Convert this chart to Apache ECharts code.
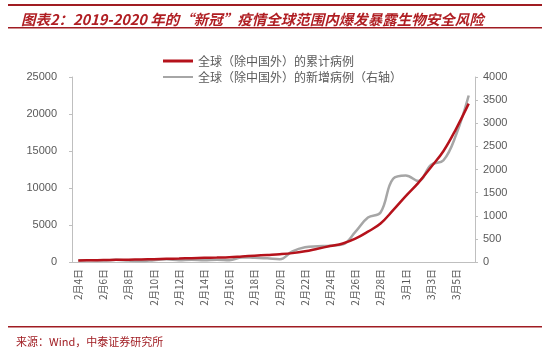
<!DOCTYPE html>
<html lang="zh">
<head>
  <meta charset="UTF-8">
  <title>全球新冠病例</title>
  <style>
    html, body { margin: 0; padding: 0; background: #fff; }
    #chart { width: 550px; height: 353px; }
  </style>
</head>
<body>
  <div id="chart"></div>
  <script src="https://cdn.jsdelivr.net/npm/echarts@6/dist/echarts.min.js"></script>
  <script>
    // 日期 2/4 - 3/6
    var dates = ['2月4日', '2月5日', '2月6日', '2月7日', '2月8日', '2月9日', '2月10日', '2月11日',
      '2月12日', '2月13日', '2月14日', '2月15日', '2月16日', '2月17日', '2月18日', '2月19日',
      '2月20日', '2月21日', '2月22日', '2月23日', '2月24日', '2月25日', '2月26日', '2月27日',
      '2月28日', '2月29日', '3月1日', '3月2日', '3月3日', '3月4日', '3月5日', '3月6日'];

    // 累计病例（左轴）
    var cumulative = [200, 230, 260, 290, 320, 340, 380, 430,
      470, 520, 560, 600, 650, 750, 850, 950,
      1050, 1200, 1450, 1800, 2150, 2500, 3150, 4100,
      5200, 7000, 8900, 10700, 12800, 15000, 18000, 21400];

    // 新增病例（右轴）
    var daily = [30, 40, 30, 50, 30, 20, 40, 60,
      40, 50, 40, 50, 40, 100, 90, 80,
      60, 230, 320, 340, 350, 380, 650, 960,
      1070, 1800, 1870, 1750, 2100, 2200, 2750, 3600];

    var red = '#b5121b';
    var grey = '#a6a6a6';
    var txt = '#595959';
    var cjk = '"Noto Sans CJK SC", sans-serif';
    var num = 'Arial, "Liberation Sans", sans-serif';

    var myChart = echarts.init(document.getElementById('chart'));

    var option = {
      animation: false,
      backgroundColor: '#fff',
      textStyle: { fontFamily: cjk },
      title: {
        text: '图表2：2019-2020 年的“新冠”疫情全球范围内爆发暴露生物安全风险',
        left: 16,
        top: 7,
        textStyle: {
          color: '#b01e23',
          fontSize: 14.5,
          fontWeight: 'bold',
          fontStyle: 'italic',
          fontFamily: cjk
        }
      },
      graphic: [
        { type: 'rect', shape: { x: 8, y: 4, width: 534, height: 2 }, style: { fill: '#a01c22' } },
        { type: 'rect', shape: { x: 8, y: 27, width: 534, height: 1.5 }, style: { fill: '#a01c22' } },
        { type: 'rect', shape: { x: 8, y: 326, width: 534, height: 1.5 }, style: { fill: '#a01c22' } },
        {
          type: 'text', left: 16, top: 336,
          style: { text: '来源：Wind，中泰证券研究所', fill: '#a01c22', font: '11px ' + cjk }
        }
      ],
      legend: {
        orient: 'vertical',
        left: 158,
        top: 50,
        itemGap: 4,
        itemWidth: 30,
        itemHeight: 12,
        textStyle: { color: txt, fontSize: 12, fontFamily: cjk },
        data: [
          { name: '全球（除中国外）的累计病例', icon: 'path://M0,5 L30,5 L30,8 L0,8 Z' },
          { name: '全球（除中国外）的新增病例（右轴）', icon: 'path://M0,5.5 L30,5.5 L30,7.5 L0,7.5 Z' }
        ]
      },
      grid: { left: 72, right: 75, top: 77, bottom: 91 },
      xAxis: {
        type: 'category',
        data: dates,
        boundaryGap: true,
        axisLine: { lineStyle: { color: '#bfbfbf', width: 1 } },
        axisTick: { interval: 1, length: 4, lineStyle: { color: '#bfbfbf' } },
        axisLabel: {
          interval: 1,
          rotate: 90,
          color: txt,
          fontSize: 10,
          margin: 7,
          fontFamily: cjk
        },
        splitLine: { show: false }
      },
      yAxis: [
        {
          type: 'value',
          min: 0,
          max: 25000,
          interval: 5000,
          axisLine: { show: true, lineStyle: { color: '#bfbfbf' } },
          axisTick: { show: true, inside: false, length: 3, lineStyle: { color: '#bfbfbf' } },
          axisLabel: {
            color: txt, fontSize: 11, margin: 15, fontFamily: num,
            formatter: function (v) { return String(v); }
          },
          splitLine: { show: false }
        },
        {
          type: 'value',
          min: 0,
          max: 4000,
          interval: 500,
          position: 'right',
          axisLine: { show: true, lineStyle: { color: '#bfbfbf' } },
          axisTick: { show: true, length: 3, lineStyle: { color: '#bfbfbf' } },
          axisLabel: {
            color: txt, fontSize: 11, margin: 8, fontFamily: num,
            formatter: function (v) { return String(v); }
          },
          splitLine: { show: false }
        }
      ],
      series: [
        {
          name: '全球（除中国外）的新增病例（右轴）',
          type: 'line',
          yAxisIndex: 1,
          smooth: 0.4,
          symbol: 'none',
          data: daily,
          lineStyle: { color: grey, width: 2.5 },
          itemStyle: { color: grey },
          z: 2
        },
        {
          name: '全球（除中国外）的累计病例',
          type: 'line',
          yAxisIndex: 0,
          smooth: 0.4,
          symbol: 'none',
          data: cumulative,
          lineStyle: { color: red, width: 2.5 },
          itemStyle: { color: red },
          z: 3
        }
      ]
    };

    myChart.setOption(option);
  </script>
</body>
</html>
